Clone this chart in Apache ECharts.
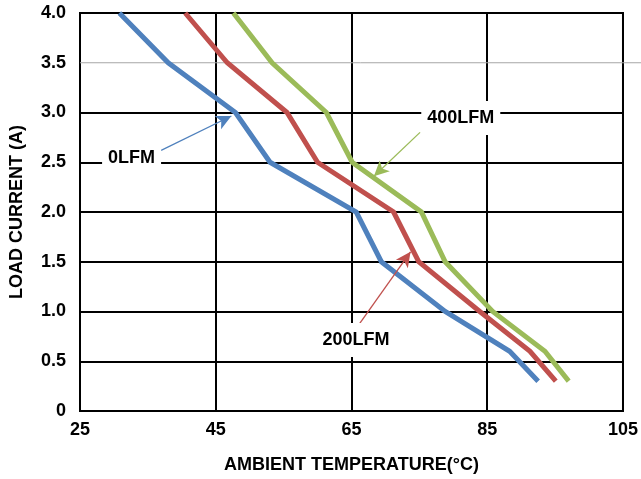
<!DOCTYPE html>
<html><head><meta charset="utf-8">
<script src="https://cdn.jsdelivr.net/npm/echarts/dist/echarts.min.js"></script>
<style>html,body{margin:0;padding:0;background:#fff}#c{width:641px;height:479px}</style>
</head><body><div id="c"></div>
<script>
// Data
const loadLevels = [4.0, 3.5, 3.0, 2.5, 2.0, 1.5, 1.0, 0.6, 0.3];
const temp0LFM   = [30.8, 38.0, 47.9, 53.0, 65.7, 69.4, 78.8, 88.3, 92.5];
const temp200LFM = [40.5, 46.7, 55.5, 60.0, 71.2, 74.9, 83.9, 91.3, 95.1];
const temp400LFM = [47.6, 53.3, 61.3, 65.1, 75.3, 78.8, 85.8, 93.5, 97.0];
const seriesNames = ['0LFM', '200LFM', '400LFM'];
const xTicks = [25, 45, 65, 85, 105];
const yTicks = [0, 0.5, 1.0, 1.5, 2.0, 2.5, 3.0, 3.5, 4.0];
// annotation positions (data units)
const labelPos = [[32.6, 2.54], [65.65, 0.714], [81.1, 2.945]];
const arrowFrom = [[36.95, 2.62], [65.8, 0.84], [75.1, 2.80]];
const arrowTo   = [[47.3, 2.965], [73.7, 1.60], [68.3, 2.36]];

const colors = ['#4F81BD', '#C0504D', '#9BBB59'];
const temps = [temp0LFM, temp200LFM, temp400LFM];
const font = 'Arial, "Liberation Sans", sans-serif';

const chart = echarts.init(document.getElementById('c'), null, {renderer: 'canvas'});
const splitColors = yTicks.map(v => v === 3.5 ? 'rgba(0,0,0,0)' : '#000');

const series = temps.map((t, i) => ({
  name: seriesNames[i],
  type: 'line',
  data: t.map((x, k) => [x, loadLevels[k]]),
  showSymbol: false,
  symbol: 'none',
  lineStyle: {color: colors[i], width: 5, cap: 'butt', join: 'miter'},
  itemStyle: {color: colors[i]},
  z: 3,
  markLine: {
    silent: true,
    symbol: ['none', 'arrow'],
    symbolSize: [11, 15],
    label: {show: false},
    lineStyle: {color: colors[i], width: 1.3, type: 'solid'},
    data: [[{coord: arrowFrom[i]}, {coord: arrowTo[i]}]]
  },
  markPoint: {
    silent: true,
    symbol: 'rect',
    symbolSize: 1,
    itemStyle: {color: 'rgba(0,0,0,0)'},
    label: {
      show: true, position: 'inside', formatter: seriesNames[i],
      color: '#000', fontSize: 18, fontWeight: 'bold', fontFamily: font,
      backgroundColor: '#fff', padding: [8, 6]
    },
    data: [{coord: labelPos[i]}]
  }
}));

chart.setOption({
  animation: false,
  backgroundColor: '#fff',
  grid: {left: 78, right: 14, top: 13, bottom: 68, show: true, borderColor: '#000', borderWidth: 2},
  xAxis: {
    type: 'value', min: xTicks[0], max: xTicks[xTicks.length - 1], interval: 20,
    name: 'AMBIENT TEMPERATURE(°C)', nameLocation: 'middle', nameGap: 45,
    nameTextStyle: {color: '#000', fontSize: 18, fontWeight: 'bold', fontFamily: font},
    axisLine: {show: true, lineStyle: {color: '#000', width: 2}},
    axisTick: {show: false},
    axisLabel: {color: '#000', fontSize: 18, fontWeight: 'bold', fontFamily: font, margin: 10},
    splitLine: {show: true, lineStyle: {color: '#000', width: 2}}
  },
  yAxis: {
    type: 'value', min: 0, max: 4, interval: 0.5,
    name: 'LOAD CURRENT (A)', nameLocation: 'middle', nameGap: 54,
    nameTextStyle: {color: '#000', fontSize: 18, fontWeight: 'bold', fontFamily: font},
    axisLine: {show: true, lineStyle: {color: '#000', width: 2}},
    axisTick: {show: false},
    axisLabel: {color: '#000', fontSize: 18, fontWeight: 'bold', fontFamily: font, margin: 14,
      formatter: v => v === 0 ? '0' : v.toFixed(1)},
    splitLine: {show: true, lineStyle: {color: splitColors, width: 2}}
  },
  series: series
});

// thin grey gridline at 3.5, positioned through the axis scale
const y35 = chart.convertToPixel({yAxisIndex: 0}, 3.5);
const xLeft = chart.convertToPixel({xAxisIndex: 0}, xTicks[0]);
chart.setOption({
  graphic: [{
    type: 'line', z: 1, silent: true,
    shape: {x1: xLeft, y1: y35, x2: 641, y2: y35},
    style: {stroke: '#a6a6a6', lineWidth: 1}
  }]
});
</script>
</body></html>
